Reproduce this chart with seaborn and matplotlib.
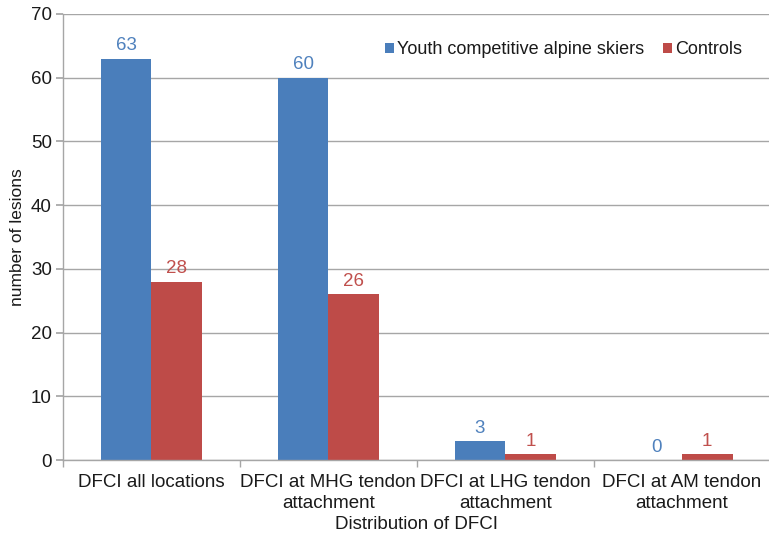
import matplotlib
matplotlib.use("Agg")
import matplotlib.pyplot as plt
import seaborn as sns
import pandas as pd
from matplotlib.ticker import FixedLocator

categories = ["DFCI all locations", "DFCI at MHG tendon\nattachment",
              "DFCI at LHG tendon\nattachment", "DFCI at AM tendon\nattachment"]
series_names = ["Youth competitive alpine skiers", "Controls"]
skiers = [63, 60, 3, 0]
controls = [28, 26, 1, 1]

df = pd.DataFrame({
    "category": categories * 2,
    "group": [series_names[0]] * 4 + [series_names[1]] * 4,
    "value": skiers + controls,
})

sns.set_theme(style="white")
plt.rcParams["font.family"] = ["Liberation Sans", "DejaVu Sans"]

bar_colors = ["#4A7EBB", "#BE4B48"]
label_colors = ["#4F81BD", "#C0504D"]

fig = plt.figure(figsize=(7.69, 5.35), dpi=100)
ax = fig.add_axes([0.082, 0.14, 0.92, 0.834])

sns.barplot(data=df, x="category", y="value", hue="group", palette=bar_colors,
            width=0.57, ax=ax, saturation=1, edgecolor="none", legend=True)

for cont, col in zip(ax.containers, label_colors):
    ax.bar_label(cont, padding=3, color=col, fontsize=13.5)

ax.set_ylim(0, 70)
ax.set_yticks(range(0, 71, 10))
ax.set_xlim(-0.5, 3.5)
ax.yaxis.grid(True, color="#A6A6A6", linewidth=1)
ax.set_axisbelow(True)
for s in ["top", "right"]:
    ax.spines[s].set_visible(False)
for s in ["left", "bottom"]:
    ax.spines[s].set_color("#A6A6A6")
    ax.spines[s].set_linewidth(1)

ax.set_xticks(range(len(categories)))
ax.set_xticklabels(categories, linespacing=1.3)
ax.tick_params(axis="y", which="major", left=True, length=5, color="#A6A6A6",
               labelsize=13.5, labelcolor="#1a1a1a", pad=3)
ax.tick_params(axis="x", which="major", bottom=False, labelsize=13.5,
               labelcolor="#1a1a1a", pad=4)
ax.xaxis.set_minor_locator(FixedLocator([-0.5, 0.5, 1.5, 2.5, 3.5]))
ax.tick_params(axis="x", which="minor", bottom=True, length=5, color="#A6A6A6")

ax.set_xlabel("Distribution of DFCI", fontsize=13.5, color="#1a1a1a", labelpad=3)
ax.set_ylabel("number of lesions", fontsize=12.5, color="#1a1a1a", labelpad=4)

leg = ax.legend(loc="upper right", bbox_to_anchor=(0.983, 0.975), ncol=2,
                frameon=False, fontsize=13, handlelength=0.5, handleheight=0.5,
                handletextpad=0.2, columnspacing=1.0)
for t in leg.get_texts():
    t.set_color("#1a1a1a")

fig.savefig("out.png", dpi=100)
